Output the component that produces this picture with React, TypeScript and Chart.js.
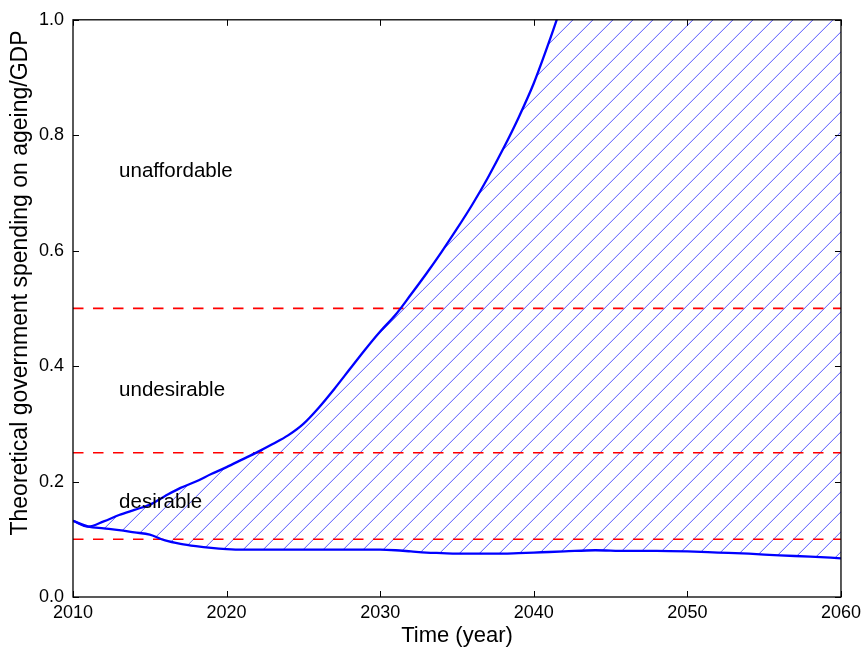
import React, { useEffect, useRef } from "react";
import { Chart, registerables } from "chart.js";

Chart.register(...registerables);

// Years at which both spending bounds are sampled
const years = [
  2010, 2011, 2012, 2013, 2014, 2015, 2016, 2017, 2018, 2019,
  2020, 2021, 2022, 2023, 2024, 2025, 2026, 2027, 2028, 2029,
  2030, 2031, 2032, 2033, 2034, 2035, 2036, 2037, 2038, 2039,
  2040, 2041, 2042, 2044, 2046, 2048, 2050, 2052, 2054, 2056,
  2058, 2060,
];

// Upper bound of theoretical spending (share of GDP)
const upperBound = [
  0.132, 0.122, 0.131, 0.142, 0.151, 0.16, 0.175, 0.189, 0.2, 0.213,
  0.225, 0.238, 0.251, 0.265, 0.28, 0.3, 0.328, 0.36, 0.394, 0.428,
  0.46, 0.489, 0.524, 0.56, 0.598, 0.638, 0.68, 0.726, 0.776, 0.83,
  0.89, 0.962, 1.04, 1.2, 1.38, 1.58, 1.8, 2.03, 2.28, 2.55,
  2.84, 3.15,
];

// Lower bound of theoretical spending (share of GDP)
const lowerBound = [
  0.132, 0.122, 0.119, 0.116, 0.112, 0.108, 0.098, 0.092, 0.088, 0.085,
  0.083, 0.082, 0.082, 0.082, 0.082, 0.082, 0.082, 0.082, 0.082, 0.082,
  0.082, 0.081, 0.079, 0.077, 0.076, 0.075, 0.075, 0.075, 0.075, 0.076,
  0.077, 0.078, 0.079, 0.081, 0.080, 0.080, 0.079, 0.077, 0.075, 0.072,
  0.070, 0.067,
];

// Threshold levels separating the spending zones
const thresholds = [0.1, 0.25, 0.5];

// Zone names and where they sit (year, level)
const zoneLabels = ["unaffordable", "undesirable", "desirable"];
const zoneLabelYears = [2013, 2013, 2013];
const zoneLabelLevels = [0.728, 0.348, 0.155];

const xTicks = [2010, 2020, 2030, 2040, 2050, 2060];
const yTicks = [0, 0.2, 0.4, 0.6, 0.8, 1.0];

const Y_TITLE = "Theoretical government spending on ageing/GDP";
const FONT = "'Liberation Sans', Arial, Helvetica, sans-serif";

// Traces a line dataset's rendered (bezier) path, forward or backward
function tracePath(ctx: CanvasRenderingContext2D, pts: any[], reverse: boolean, move: boolean) {
  if (!reverse) {
    pts.forEach((p, i) => {
      if (i === 0) {
        if (move) ctx.moveTo(p.x, p.y);
        else ctx.lineTo(p.x, p.y);
      } else {
        const q = pts[i - 1];
        ctx.bezierCurveTo(q.cp2x ?? q.x, q.cp2y ?? q.y, p.cp1x ?? p.x, p.cp1y ?? p.y, p.x, p.y);
      }
    });
  } else {
    for (let i = pts.length - 1; i >= 0; i--) {
      const p = pts[i];
      if (i === pts.length - 1) {
        if (move) ctx.moveTo(p.x, p.y);
        else ctx.lineTo(p.x, p.y);
      } else {
        const q = pts[i + 1];
        ctx.bezierCurveTo(q.cp1x ?? q.x, q.cp1y ?? q.y, p.cp2x ?? p.x, p.cp2y ?? p.y, p.x, p.y);
      }
    }
  }
}

// Diagonal hatching of the band between the two bounds
const hatchPlugin = {
  id: "bandHatch",
  beforeDatasetsDraw(chart: any) {
    const { ctx, chartArea } = chart;
    const { left, right, top, bottom } = chartArea;
    const lower = chart.getDatasetMeta(0).data;
    const upper = chart.getDatasetMeta(1).data;
    if (!lower.length || !upper.length) return;
    ctx.save();
    ctx.beginPath();
    ctx.rect(left, top, right - left, bottom - top);
    ctx.clip();
    ctx.beginPath();
    tracePath(ctx, upper, false, true);
    tracePath(ctx, lower, true, false);
    ctx.closePath();
    ctx.clip();
    ctx.strokeStyle = "rgba(20,20,255,0.72)";
    ctx.lineWidth = 1;
    ctx.beginPath();
    const step = 20;
    // lines of constant (x + y), rising to the right
    for (let c = left + top; c <= right + bottom + step; c += step) {
      ctx.moveTo(c - top, top);
      ctx.lineTo(c - bottom, bottom);
    }
    ctx.stroke();
    ctx.restore();
  },
};

const framePlugin = {
  id: "frameAndLabels",
  afterDatasetsDraw(chart: any) {
    const { ctx, chartArea, scales } = chart;
    const { left, right, top, bottom } = chartArea;
    const xs = scales.x;
    const ys = scales.y;
    ctx.save();
    // zone names
    ctx.fillStyle = "#000";
    ctx.font = `20.5px ${FONT}`;
    ctx.textAlign = "left";
    ctx.textBaseline = "alphabetic";
    zoneLabels.forEach((t, i) => {
      ctx.fillText(t, xs.getPixelForValue(zoneLabelYears[i]), ys.getPixelForValue(zoneLabelLevels[i]));
    });
    // inward tick marks on all four sides
    ctx.strokeStyle = "#000";
    ctx.lineWidth = 1;
    const len = 6;
    ctx.beginPath();
    xTicks.forEach((v) => {
      const px = Math.round(xs.getPixelForValue(v)) + 0.5;
      ctx.moveTo(px, bottom);
      ctx.lineTo(px, bottom - len);
      ctx.moveTo(px, top);
      ctx.lineTo(px, top + len);
    });
    yTicks.forEach((v) => {
      const py = Math.round(ys.getPixelForValue(v)) + 0.5;
      ctx.moveTo(left, py);
      ctx.lineTo(left + len, py);
      ctx.moveTo(right, py);
      ctx.lineTo(right - len, py);
    });
    ctx.stroke();
    // frame
    ctx.lineWidth = 1.3;
    ctx.strokeRect(left, top, right - left, bottom - top);
    // vertical axis title
    ctx.translate(21, 283);
    ctx.rotate(-Math.PI / 2);
    ctx.font = `23px ${FONT}`;
    ctx.textAlign = "center";
    ctx.textBaseline = "middle";
    ctx.fillText(Y_TITLE, 0, 0);
    ctx.restore();
  },
};

export default function App() {
  const ref = useRef<HTMLCanvasElement | null>(null);

  useEffect(() => {
    if (!ref.current) return;
    const upperPts = years.map((x, i) => ({ x, y: upperBound[i] }));
    const lowerPts = years.map((x, i) => ({ x, y: lowerBound[i] }));

    const thresholdSets = thresholds.map((t) => ({
      data: [
        { x: 2010, y: t },
        { x: 2060, y: t },
      ],
      borderColor: "#ff0000",
      borderWidth: 1.6,
      borderDash: [10.5, 9.5],
      pointRadius: 0,
      fill: false,
      clip: 0,
    }));

    const chart = new Chart(ref.current, {
      type: "line",
      data: {
        datasets: [
          {
            data: lowerPts,
            borderColor: "#0000ff",
            borderWidth: 2.3,
            pointRadius: 0,
            cubicInterpolationMode: "monotone",
            fill: false,
            clip: 0,
          },
          {
            data: upperPts,
            borderColor: "#0000ff",
            borderWidth: 2.3,
            pointRadius: 0,
            cubicInterpolationMode: "monotone",
            fill: false,
            clip: 0,
          },
          ...thresholdSets,
        ],
      },
      options: {
        animation: false,
        responsive: true,
        maintainAspectRatio: false,
        layout: { padding: { top: 17, right: 21, left: 0, bottom: 0 } },
        plugins: {
          legend: { display: false },
          tooltip: { enabled: false },
        },
        scales: {
          x: {
            type: "linear",
            min: 2010,
            max: 2060,
            grid: { display: false, drawTicks: false },
            border: { display: false },
            afterFit: (s: any) => {
              s.height = 55;
            },
            afterBuildTicks: (s: any) => {
              s.ticks = xTicks.map((v) => ({ value: v }));
            },
            ticks: {
              autoSkip: false,
              maxRotation: 0,
              padding: 5,
              color: "#000",
              font: { family: FONT, size: 18 },
              callback: (v: any) => String(v),
            },
            title: {
              display: true,
              text: "Time (year)",
              color: "#000",
              font: { family: FONT, size: 22 },
              padding: { top: 0, bottom: 3 },
            },
          },
          y: {
            type: "linear",
            min: 0,
            max: 1,
            grid: { display: false, drawTicks: false },
            border: { display: false },
            afterFit: (s: any) => {
              s.width = 73;
            },
            afterBuildTicks: (s: any) => {
              s.ticks = yTicks.map((v) => ({ value: v }));
            },
            ticks: {
              autoSkip: false,
              padding: 9,
              color: "#000",
              font: { family: FONT, size: 18 },
              callback: (v: any) => Number(v).toFixed(1),
            },
          },
        },
      },
      plugins: [hatchPlugin, framePlugin],
    });
    return () => chart.destroy();
  }, []);

  return (
    <div style={{ position: "absolute", left: 0, top: 0, width: 866, height: 652, background: "#fff" }}>
      <canvas ref={ref} />
    </div>
  );
}
